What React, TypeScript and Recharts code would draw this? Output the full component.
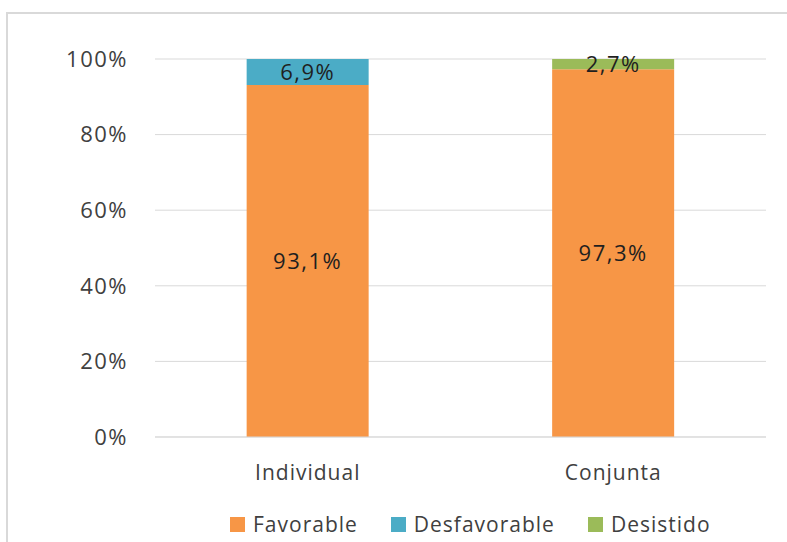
import React from "react";
import { BarChart, Bar, XAxis, YAxis, CartesianGrid, Legend, LabelList } from "recharts";

const categories = ["Individual", "Conjunta"];
const favorable = [93.1, 97.3];
const desfavorable = [6.9, 0];
const desistido = [0, 2.7];
const yTicks = [0, 20, 40, 60, 80, 100];
const legendOrder = ["Favorable", "Desfavorable", "Desistido"];

const FONT = "'Open Sans', 'Noto Sans', sans-serif";

const data = categories.map((name, i) => ({
  name,
  favorable: favorable[i],
  desfavorable: desfavorable[i],
  desistido: desistido[i]
}));

const pct = (v: unknown) => {
  const n = Number(v);
  if (!n) return "";
  return n.toFixed(1).replace(".", ",") + "%";
};

function LegendBox(props: any) {
  const items = [...(props.payload || [])].sort(
    (a: any, b: any) => legendOrder.indexOf(a.value) - legendOrder.indexOf(b.value)
  );
  return (
    <div style={{ display: "flex", alignItems: "center", paddingLeft: 230, height: 30 }}>
      {items.map((it: any) => (
        <div key={it.value} style={{ display: "flex", alignItems: "center", marginRight: 33 }}>
          <span style={{ width: 15, height: 15, background: it.color, display: "inline-block", marginRight: 8 }} />
          <span style={{ fontFamily: FONT, fontSize: 21, letterSpacing: 1, color: "#404040" }}>{it.value}</span>
        </div>
      ))}
    </div>
  );
}

export default function App() {
  return (
    <div style={{ position: "absolute", left: 0, top: 0, width: 787, height: 542, background: "#fff" }}>
      <div
        style={{
          position: "absolute",
          left: 6,
          top: 12,
          width: 781,
          height: 530,
          borderLeft: "2px solid #d9d9d9",
          borderTop: "2px solid #d9d9d9",
          boxSizing: "border-box"
        }}
      />
      <BarChart
        width={787}
        height={542}
        data={data}
        barCategoryGap="30%"
        margin={{ top: 59, right: 21, bottom: 3, left: 0 }}
      >
        <CartesianGrid stroke="#d9d9d9" vertical={false} />
        <XAxis
          dataKey="name"
          height={72}
          tickLine={false}
          tickSize={0}
          tickMargin={28}
          axisLine={{ stroke: "#d9d9d9" }}
          tick={{ fill: "#404040", fontFamily: FONT, fontSize: 21, letterSpacing: 1 }}
        />
        <YAxis
          width={155}
          domain={[0, 100]}
          ticks={yTicks}
          tickFormatter={(v) => v + "%"}
          tickLine={false}
          tickSize={0}
          tickMargin={27}
          axisLine={false}
          tick={{ fill: "#404040", fontFamily: FONT, fontSize: 22, letterSpacing: 1.5 }}
        />
        <Legend
          verticalAlign="bottom"
          wrapperStyle={{ left: 0, width: 787 }}
          content={<LegendBox />}
        />
        <Bar dataKey="favorable" name="Favorable" stackId="a" fill="#f79646" isAnimationActive={false}>
          <LabelList dataKey="favorable" position="center" formatter={pct} fill="#1f1f1f" fontFamily={FONT} fontSize={22} letterSpacing={1.5} />
        </Bar>
        <Bar dataKey="desfavorable" name="Desfavorable" stackId="a" fill="#4bacc6" isAnimationActive={false}>
          <LabelList dataKey="desfavorable" position="center" formatter={pct} fill="#1f1f1f" fontFamily={FONT} fontSize={22} letterSpacing={1.5} />
        </Bar>
        <Bar dataKey="desistido" name="Desistido" stackId="a" fill="#9bbb59" isAnimationActive={false}>
          <LabelList dataKey="desistido" position="center" formatter={pct} fill="#1f1f1f" fontFamily={FONT} fontSize={22} letterSpacing={1.5} />
        </Bar>
      </BarChart>
    </div>
  );
}
